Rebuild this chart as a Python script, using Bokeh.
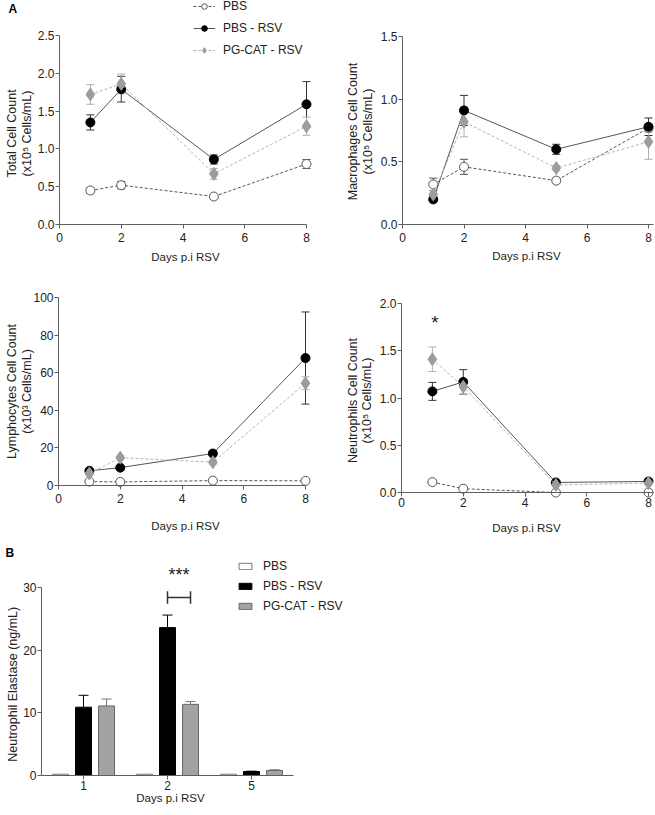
from bokeh.plotting import figure
from bokeh.layouts import column, row
from bokeh.models import (ColumnDataSource, Whisker, TeeHead, Legend, LegendItem, Label,
                          PrintfTickFormatter, FixedTicker, Range1d)
from bokeh.transform import dodge
from bokeh.embed import file_html
from bokeh.resources import INLINE

FONT = "Liberation Sans"
TXT = "#222222"
AX = "#5e5e5e"

# ---------------- data ----------------
days = [1, 2, 5, 8]
series = ["PBS", "PBS - RSV", "PG-CAT - RSV"]

total_pbs = [0.45, 0.52, 0.37, 0.80]
total_pbs_err = [0.04, 0.05, 0.02, 0.06]
total_rsv = [1.35, 1.79, 0.86, 1.59]
total_rsv_err = [0.10, 0.17, 0.06, 0.30]
total_pg = [1.72, 1.86, 0.67, 1.30]
total_pg_err = [0.13, 0.13, 0.07, 0.12]

mac_pbs = [0.32, 0.46, 0.35, 0.77]
mac_pbs_err = [0.05, 0.06, 0.02, 0.03]
mac_rsv = [0.20, 0.91, 0.60, 0.78]
mac_rsv_err = [0.02, 0.12, 0.04, 0.07]
mac_pg = [0.24, 0.82, 0.45, 0.66]
mac_pg_err = [0.03, 0.12, 0.02, 0.14]

lym_pbs = [2.1, 1.9, 2.6, 2.5]
lym_pbs_err = [0.5, 0.4, 0.5, 0.5]
lym_rsv = [7.8, 9.5, 17.0, 67.8]
lym_rsv_err = [1.0, 1.0, 1.2, 24.5]
lym_pg = [6.4, 14.8, 12.4, 54.4]
lym_pg_err = [0.8, 1.0, 1.0, 3.4]

neu_pbs = [0.11, 0.04, 0.0, 0.0]
neu_pbs_err = [0.01, 0.01, 0.0, 0.0]
neu_rsv = [1.07, 1.17, 0.106, 0.117]
neu_rsv_err = [0.095, 0.13, 0.01, 0.01]
neu_pg = [1.41, 1.12, 0.08, 0.10]
neu_pg_err = [0.13, 0.08, 0.01, 0.01]
neu_sig_day = [1.08]
neu_sig_y = [1.80]

ne_days = ["1", "2", "5"]
ne_pbs = [0.2, 0.2, 0.2]
ne_rsv = [10.9, 23.6, 0.64]
ne_rsv_err = [1.9, 2.0, 0.05]
ne_pg = [11.1, 11.35, 0.8]
ne_pg_err = [1.1, 0.45, 0.12]
ne_sig_day = ["2"]
ne_sig_y = [28.4]
ne_sig_text_y = [32.0]

styles = {
    "PBS": dict(line="#555555", dash="3 2", marker="circle", fill="white", mline="#555555", size=9, err="#555555"),
    "PBS - RSV": dict(line="#555555", dash="solid", marker="circle", fill="black", mline="black", size=9, err="#333333"),
    "PG-CAT - RSV": dict(line="#b5b5b5", dash="3 2", marker="diamond", fill="#9c9c9c", mline="#9c9c9c", size=13, err="#b0b0b0"),
}


def make_fig(w, h, px0, px1, dx0, dx1, py0, py1, dy0, dy1):
    """Figure whose frame fills it; data dx0/dx1 at local pixels px0/px1, dy0/dy1 at py0/py1."""
    sx = (px1 - px0) / (dx1 - dx0)
    sy = (py0 - py1) / (dy1 - dy0)
    xr = Range1d(dx0 - px0 / sx, dx0 + (w - px0) / sx)
    yr = Range1d(dy0 - (h - py0) / sy, dy0 + py0 / sy)
    p = figure(width=w, height=h, x_range=xr, y_range=yr, output_backend="svg",
               toolbar_location=None, min_border=0, min_border_left=0, min_border_right=0,
               min_border_top=0, min_border_bottom=0,
               background_fill_color="white", border_fill_color="white")
    p.xgrid.visible = False
    p.ygrid.visible = False
    p.outline_line_color = None
    fx = lambda px: dx0 + (px - px0) / sx
    fy = lambda py: dy0 + (py0 - py) / sy
    return p, fx, fy


def style_axes(p, x_fixed, y_fixed, xb, yb, xstand=4):
    for ax in (p.xaxis[0], p.yaxis[0]):
        ax.axis_line_color = AX
        ax.major_tick_line_color = AX
        ax.minor_tick_line_color = None
        ax.major_tick_out = 4
        ax.major_tick_in = 0
        ax.major_label_text_font = FONT
        ax.major_label_text_font_size = "12px"
        ax.major_label_text_color = TXT
    p.xaxis.fixed_location = x_fixed
    p.yaxis.fixed_location = y_fixed
    p.xaxis.bounds = xb
    p.yaxis.bounds = yb
    p.yaxis.major_label_standoff = 1
    p.xaxis.major_label_standoff = xstand


def txt(p, fx, fy, px, py, text, size="12px", angle=0, bold=False, align="center", color=TXT):
    p.add_layout(Label(x=fx(px), y=fy(py), text=text, angle=angle, angle_units="deg",
                       text_align=align, text_baseline="middle", text_font=FONT,
                       text_font_size=size, text_font_style="bold" if bold else "normal",
                       text_color=color))


def line_panel(w, h, px0, px1, py0, py1, y_top, x_end, y_ticks, fmt, data, xstand):
    p, fx, fy = make_fig(w, h, px0, px1, 0, 8, py0, py1, 0, y_top)
    rends = {}
    for name, (vals, errs) in zip(series, data):
        st = styles[name]
        src = ColumnDataSource(dict(x=days, y=vals,
                                    lo=[v - e for v, e in zip(vals, errs)],
                                    hi=[v + e for v, e in zip(vals, errs)]))
        wsk = Whisker(source=src, base="x", upper="hi", lower="lo", dimension="height",
                      line_color=st["err"], line_width=1, level="underlay",
                      upper_head=TeeHead(size=8, line_color=st["err"], line_width=1),
                      lower_head=TeeHead(size=8, line_color=st["err"], line_width=1))
        p.add_layout(wsk)
        l = p.line("x", "y", source=src, line_color=st["line"], line_dash=st["dash"], line_width=1)
        s = p.scatter("x", "y", source=src, marker=st["marker"], size=st["size"],
                      fill_color=st["fill"], line_color=st["mline"], line_width=1)
        rends[name] = [l, s]
    style_axes(p, 0, 0, (0, x_end), (0, y_top), xstand)
    p.xaxis.ticker = FixedTicker(ticks=[0, 2, 4, 6, 8])
    p.yaxis.ticker = FixedTicker(ticks=y_ticks)
    p.yaxis.formatter = PrintfTickFormatter(format=fmt)
    return p, fx, fy, rends


# ---- panel A1: total ----
p1, fx1, fy1, r1 = line_panel(330, 270, 59, 306, 224, 35, 2.5, 8, [0, 0.5, 1.0, 1.5, 2.0, 2.5], "%.1f",
                              [(total_pbs, total_pbs_err), (total_rsv, total_rsv_err), (total_pg, total_pg_err)], 4)
txt(p1, fx1, fy1, 8, 8, "A", bold=True, align="left", color="black")
txt(p1, fx1, fy1, 11, 133, "Total Cell Count", size="12.5px", angle=90)
txt(p1, fx1, fy1, 26, 133, "(x10\u2075 Cells/mL)", size="12.5px", angle=90)
txt(p1, fx1, fy1, 185, 256, "Days p.i RSV", size="11.5px")
leg = Legend(items=[LegendItem(label=n, renderers=r1[n]) for n in series],
             location=(193, 270 - 57), orientation="vertical", padding=0, spacing=8, margin=0,
             glyph_width=22, glyph_height=14, label_height=14, label_standoff=8,
             label_text_font=FONT, label_text_font_size="12px", label_text_color=TXT,
             background_fill_alpha=0, border_line_alpha=0)
p1.add_layout(leg)

# ---- panel A2: macrophages ----
p2, fx2, fy2, _ = line_panel(325, 270, 72, 318, 224, 36, 1.5, 8.15, [0, 0.5, 1.0, 1.5], "%.1f",
                             [(mac_pbs, mac_pbs_err), (mac_rsv, mac_rsv_err), (mac_pg, mac_pg_err)], 4)
txt(p2, fx2, fy2, 22, 131, "Macrophages Cell Count", size="12.5px", angle=90)
txt(p2, fx2, fy2, 37, 131, "(x10\u2075 Cells/mL)", size="12.5px", angle=90)
txt(p2, fx2, fy2, 196, 255, "Days p.i RSV", size="11.5px")

# ---- panel A3: lymphocytes ----
p3, fx3, fy3, _ = line_panel(330, 270, 58, 305, 215, 27, 100, 8, [0, 20, 40, 60, 80, 100], "%d",
                             [(lym_pbs, lym_pbs_err), (lym_rsv, lym_rsv_err), (lym_pg, lym_pg_err)], 4)
txt(p3, fx3, fy3, 11, 121, "Lymphocytes Cell Count", size="12.5px", angle=90)
txt(p3, fx3, fy3, 26, 121, "(x10\u00b3 Cells/mL)", size="12.5px", angle=90)
txt(p3, fx3, fy3, 185, 255, "Days p.i RSV", size="11.5px")

# ---- panel A4: neutrophils ----
p4, fx4, fy4, _ = line_panel(325, 270, 71, 318, 222, 33, 2.0, 8.15, [0, 0.5, 1.0, 1.5, 2.0], "%.1f",
                             [(neu_pbs, neu_pbs_err), (neu_rsv, neu_rsv_err), (neu_pg, neu_pg_err)], 1)
txt(p4, fx4, fy4, 22, 130, "Neutrophils Cell Count", size="12.5px", angle=90)
txt(p4, fx4, fy4, 36, 130, "(x10\u2075 Cells/mL)", size="12.5px", angle=90)
txt(p4, fx4, fy4, 196, 257, "Days p.i RSV", size="11.5px")
for dx, dy in zip(neu_sig_day, neu_sig_y):
    p4.add_layout(Label(x=dx, y=dy, text="*", text_font=FONT, text_font_size="19px",
                        text_align="center", text_baseline="middle", text_color=TXT))

# ---------------- panel B ----------------
ne_idx = list(range(len(ne_days)))
pB, fxB, fyB = make_fig(345, 274, 83, 251, ne_idx[0], ne_idx[-1], 235, 47, 0, 30)
srcB = ColumnDataSource(dict(idx=ne_idx, pbs=ne_pbs, rsv=ne_rsv, pg=ne_pg,
                             rsv_hi=[v + e for v, e in zip(ne_rsv, ne_rsv_err)],
                             pg_hi=[v + e for v, e in zip(ne_pg, ne_pg_err)]))
OFF = 0.274
BW = 0.19
wr = Whisker(source=srcB, base=dodge("idx", 0), upper="rsv_hi", lower="rsv",
             dimension="height", line_color="black", line_width=1, level="underlay",
             upper_head=TeeHead(size=10, line_color="black", line_width=1), lower_head=None)
wg = Whisker(source=srcB, base=dodge("idx", OFF), upper="pg_hi", lower="pg",
             dimension="height", line_color="#777777", line_width=1, level="underlay",
             upper_head=TeeHead(size=10, line_color="#777777", line_width=1), lower_head=None)
pB.add_layout(wr)
pB.add_layout(wg)
b1 = pB.vbar(x=dodge("idx", -OFF), top="pbs", width=BW, source=srcB,
             fill_color="white", line_color="#777777", line_width=1)
b2 = pB.vbar(x=dodge("idx", 0), top="rsv", width=BW, source=srcB,
             fill_color="black", line_color="black", line_width=1)
b3 = pB.vbar(x=dodge("idx", OFF), top="pg", width=BW, source=srcB,
             fill_color="#a3a3a3", line_color="#666666", line_width=1)

sig_idx = [ne_days.index(d) for d in ne_sig_day]
sig = ColumnDataSource(dict(idx=sig_idx, y=ne_sig_y,
                            y0=[v - 1.0 for v in ne_sig_y], y1=[v + 1.0 for v in ne_sig_y]))
pB.segment(x0=dodge("idx", 0), x1=dodge("idx", OFF), y0="y", y1="y", source=sig,
           line_color="#333333", line_width=1.5)
pB.segment(x0=dodge("idx", 0), x1=dodge("idx", 0), y0="y0", y1="y1", source=sig,
           line_color="#333333", line_width=1.5)
pB.segment(x0=dodge("idx", OFF), x1=dodge("idx", OFF), y0="y0", y1="y1", source=sig,
           line_color="#333333", line_width=1.5)
for i, ty in zip(sig_idx, ne_sig_text_y):
    pB.add_layout(Label(x=i + OFF / 2, y=ty, text="***", text_font=FONT, text_font_size="18px",
                        text_align="center", text_baseline="middle", text_color=TXT))

style_axes(pB, 0, ne_idx[0] - 0.5, (ne_idx[0] - 0.5, ne_idx[-1] + 0.5), (0, 30), 1)
pB.yaxis.ticker = FixedTicker(ticks=[0, 10, 20, 30])
pB.xaxis.ticker = FixedTicker(ticks=ne_idx)
pB.xaxis.major_label_overrides = {i: d for i, d in zip(ne_idx, ne_days)}
txt(pB, fxB, fyB, 5, 12, "B", bold=True, align="left", color="black")
txt(pB, fxB, fyB, 12, 142, "Neutrophil  Elastase (ng/mL)", size="12.5px", angle=90)
txt(pB, fxB, fyB, 170, 257, "Days p.i RSV", size="11.5px")

legB = Legend(items=[LegendItem(label=series[0], renderers=[b1]),
                     LegendItem(label=series[1], renderers=[b2]),
                     LegendItem(label=series[2], renderers=[b3])],
              location=(237, 274 - 73), orientation="vertical", padding=0, spacing=6, margin=0,
              glyph_width=16, glyph_height=8, label_height=14, label_standoff=10,
              label_text_font=FONT, label_text_font_size="12px", label_text_color=TXT,
              background_fill_alpha=0, border_line_alpha=0)
pB.add_layout(legB)

layout = column(row(p1, p2), row(p3, p4), row(pB))

open("out.html", "w").write(file_html(layout, INLINE))
